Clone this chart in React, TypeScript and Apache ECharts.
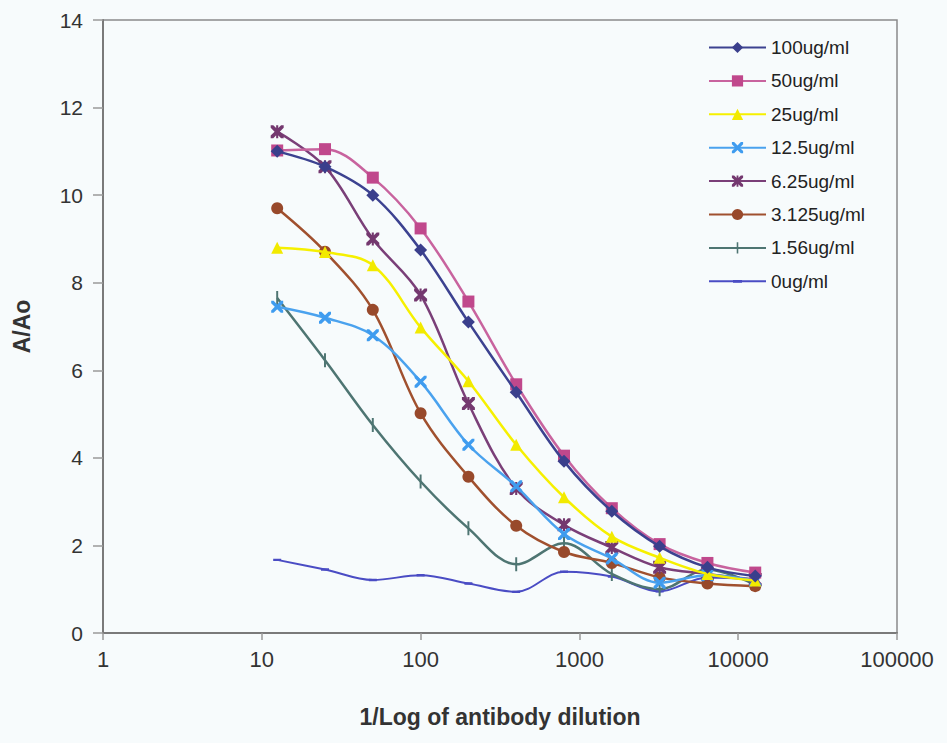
import React, { useEffect, useRef } from "react";
import * as echarts from "echarts";

const dilutions = [12.5, 25, 50, 100, 200, 400, 800, 1600, 3200, 6400, 12800];
const xTickLabels = ["1", "10", "100", "1000", "10000", "100000"];

const s100 = [11.0, 10.65, 10.0, 8.75, 7.1, 5.5, 3.92, 2.78, 1.98, 1.5, 1.3];
const s50 = [11.02, 11.05, 10.4, 9.24, 7.57, 5.68, 4.05, 2.85, 2.03, 1.6, 1.38];
const s25 = [8.8, 8.7, 8.4, 6.98, 5.75, 4.3, 3.1, 2.2, 1.72, 1.35, 1.2];
const s12_5 = [7.45, 7.2, 6.8, 5.74, 4.3, 3.35, 2.26, 1.7, 1.15, 1.32, 1.2];
const s6_25 = [11.45, 10.65, 9.0, 7.72, 5.24, 3.3, 2.47, 1.95, 1.5, 1.35, 1.22];
const s3_125 = [9.7, 8.71, 7.38, 5.02, 3.57, 2.45, 1.85, 1.6, 1.27, 1.13, 1.07];
const s1_56 = [7.65, 6.23, 4.75, 3.46, 2.39, 1.57, 2.05, 1.35, 1.0, 1.45, 1.1];
const s0 = [1.67, 1.45, 1.21, 1.32, 1.13, 0.94, 1.4, 1.29, 0.95, 1.27, 1.22];

const seriesNames = [
  "100ug/ml",
  "50ug/ml",
  "25ug/ml",
  "12.5ug/ml",
  "6.25ug/ml",
  "3.125ug/ml",
  "1.56ug/ml",
  "0ug/ml",
];
const seriesValues = [s100, s50, s25, s12_5, s6_25, s3_125, s1_56, s0];

// tiny corner specks keep the bounding box square so shapes keep their aspect
const CORNERS = " M0,0 L0.01,0 L0.01,0.01 Z M9.99,9.99 L10,9.99 L10,10 Z";
const X_PATH =
  "path://M0,0 L2,0 L5,3 L8,0 L10,0 L10,2 L7,5 L10,8 L10,10 L8,10 L5,7 L2,10 L0,10 L0,8 L3,5 L0,2 Z";
const STAR_PATH =
  "path://M0,0 L2,0 L5,3 L8,0 L10,0 L10,2 L7,5 L10,8 L10,10 L8,10 L5,7 L2,10 L0,10 L0,8 L3,5 L0,2 Z M4.2,0 L5.8,0 L5.8,10 L4.2,10 Z";
const VBAR_PATH = "path://M4.3,0 L5.7,0 L5.7,10 L4.3,10 Z" + CORNERS;
const DASH_PATH = "path://M1,3.8 L9,3.8 L9,6.2 L1,6.2 Z" + CORNERS;

const styles = [
  { line: "#3c4290", marker: "#3a3f8c", symbol: "diamond", size: 13 },
  { line: "#c8639e", marker: "#c0488c", symbol: "rect", size: 12 },
  { line: "#f6f000", marker: "#f2ea00", symbol: "triangle", size: 12 },
  { line: "#4aa2ee", marker: "#3f9cef", symbol: X_PATH, size: 12 },
  { line: "#7a3f78", marker: "#74386f", symbol: STAR_PATH, size: 13 },
  { line: "#a0502e", marker: "#98492b", symbol: "circle", size: 12 },
  { line: "#4e7572", marker: "#4e7572", symbol: VBAR_PATH, size: 14 },
  { line: "#4a4cc4", marker: "#4a4cc4", symbol: DASH_PATH, size: 10 },
];

export default function App() {
  const ref = useRef<HTMLDivElement>(null);
  useEffect(() => {
    document.body.style.margin = "0";
    document.body.style.background = "#f7fbfc";
    const chart = echarts.init(ref.current!, null, { renderer: "svg" });
    const font = "'Liberation Sans', Arial, sans-serif";
    const series = seriesNames.map((name, i) => ({
      name,
      type: "line",
      smooth: 0.35,
      data: dilutions.map((d, j) => [d, seriesValues[i][j]]),
      symbol: styles[i].symbol,
      symbolSize: styles[i].size,
      showAllSymbol: true,
      lineStyle: { color: styles[i].line, width: i === 7 ? 2 : 2.5 },
      itemStyle: { color: styles[i].marker, borderWidth: 0 },
      z: 10 - i,
    }));
    chart.setOption({
      animation: false,
      backgroundColor: "#f7fbfc",
      grid: {
        left: 103,
        right: 50,
        top: 20,
        bottom: 110,
        show: true,
        borderColor: "#8a8a8a",
        borderWidth: 1.5,
        backgroundColor: "transparent",
      },
      legend: {
        orient: "vertical",
        left: 703,
        top: 33,
        itemWidth: 57,
        itemHeight: 14,
        itemGap: 14.4,
        textStyle: { fontSize: 19, color: "#222", fontFamily: font },
        data: seriesNames,
      },
      xAxis: {
        type: "log",
        logBase: 10,
        min: 1,
        max: 100000,
        name: "1/Log of antibody dilution",
        nameLocation: "middle",
        nameGap: 72,
        nameTextStyle: { fontSize: 23, fontWeight: "bold", color: "#333", fontFamily: font },
        axisLine: { show: true, lineStyle: { color: "#7a7a7a", width: 2 } },
        axisTick: { show: true, length: 7, lineStyle: { color: "#9a9a9a", width: 1.5 } },
        minorTick: { show: false },
        splitLine: { show: false },
        axisLabel: {
          fontSize: 22,
          color: "#333",
          fontFamily: font,
          margin: 15,
          formatter: (v: number) => xTickLabels[Math.round(Math.log10(v))] ?? String(v),
        },
      },
      yAxis: {
        type: "value",
        min: 0,
        max: 14,
        interval: 2,
        name: "A/Ao",
        nameLocation: "middle",
        nameGap: 70,
        nameTextStyle: { fontSize: 23, fontWeight: "bold", color: "#333", fontFamily: font },
        axisLine: { show: true, lineStyle: { color: "#7a7a7a", width: 2 } },
        axisTick: { show: true, length: 10, inside: false, lineStyle: { color: "#9a9a9a", width: 1.5 } },
        splitLine: { show: false },
        axisLabel: { fontSize: 21, color: "#333", fontFamily: font, margin: 20 },
      },
      series,
    });
    return () => chart.dispose();
  }, []);
  return (
    <div
      ref={ref}
      style={{ position: "absolute", left: 0, top: 0, width: 947, height: 743, background: "#f7fbfc" }}
    />
  );
}
